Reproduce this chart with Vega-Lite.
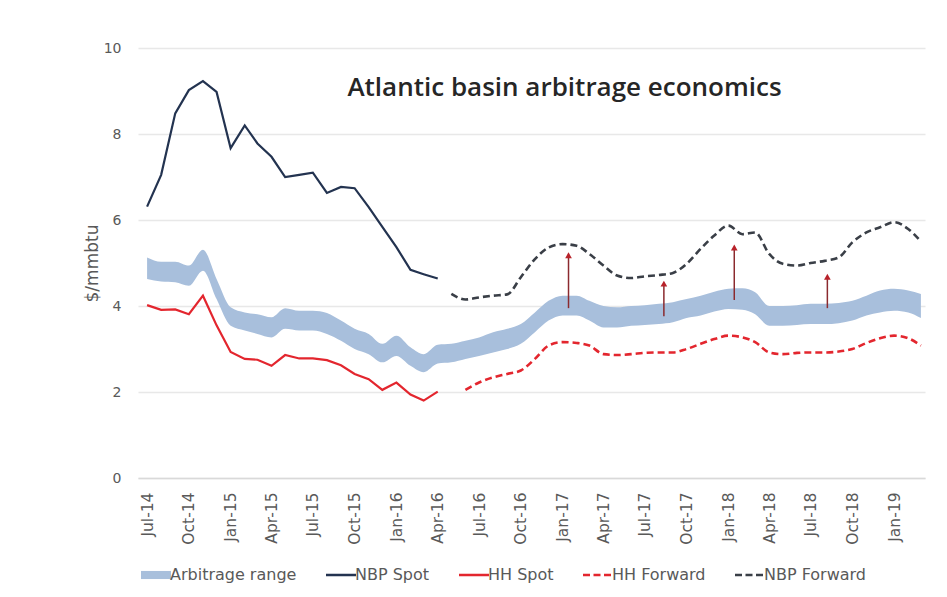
{
  "$schema": "https://vega.github.io/schema/vega-lite/v6.json",
  "width": 787,
  "height": 430,
  "autosize": {"type": "none"},
  "padding": {"left": 138, "top": 48, "right": 22, "bottom": 119},
  "background": "white",
  "config": {
    "view": {"stroke": null},
    "font": "DejaVu Sans",
    "axisY": {
      "grid": true, "gridColor": "#e8e8e8", "gridWidth": 1.5,
      "domain": false, "ticks": false,
      "labelFontSize": 14, "labelColor": "#595959", "labelPadding": 17,
      "titleFontSize": 17, "titleColor": "#595959", "titleFontWeight": "normal", "titlePadding": 2,
      "tickCount": 5
    },
    "axisX": {
      "grid": false, "domain": true, "domainColor": "#d9d9d9", "domainWidth": 1.5, "ticks": false,
      "labelAngle": -90, "labelFontSize": 15.5, "labelColor": "#595959", "labelPadding": 14
    }
  },
  "title": {
    "text": "Atlantic basin arbitrage economics",
    "frame": "group", "anchor": "middle", "dx": 33, "offset": -60,
    "font": "Open Sans", "fontSize": 26, "fontWeight": 600, "color": "#262626"
  },
  "datasets": {
    "band": [
      {"date": "2014-07-01", "lo": 4.63, "hi": 5.13},
      {"date": "2014-08-01", "lo": 4.57, "hi": 5.03},
      {"date": "2014-09-01", "lo": 4.55, "hi": 5.03},
      {"date": "2014-10-01", "lo": 4.47, "hi": 4.94},
      {"date": "2014-11-01", "lo": 4.82, "hi": 5.31},
      {"date": "2014-12-01", "lo": 4.16, "hi": 4.63},
      {"date": "2015-01-01", "lo": 3.54, "hi": 3.97},
      {"date": "2015-02-01", "lo": 3.43, "hi": 3.85},
      {"date": "2015-03-01", "lo": 3.35, "hi": 3.81},
      {"date": "2015-04-01", "lo": 3.27, "hi": 3.74},
      {"date": "2015-05-01", "lo": 3.47, "hi": 3.95},
      {"date": "2015-06-01", "lo": 3.43, "hi": 3.89},
      {"date": "2015-07-01", "lo": 3.43, "hi": 3.89},
      {"date": "2015-08-01", "lo": 3.35, "hi": 3.84},
      {"date": "2015-09-01", "lo": 3.19, "hi": 3.66},
      {"date": "2015-10-01", "lo": 3.0, "hi": 3.47},
      {"date": "2015-11-01", "lo": 2.88, "hi": 3.35},
      {"date": "2015-12-01", "lo": 2.69, "hi": 3.12},
      {"date": "2016-01-01", "lo": 2.84, "hi": 3.31},
      {"date": "2016-02-01", "lo": 2.61, "hi": 3.04},
      {"date": "2016-03-01", "lo": 2.46, "hi": 2.88},
      {"date": "2016-04-01", "lo": 2.66, "hi": 3.1},
      {"date": "2016-05-01", "lo": 2.69, "hi": 3.12},
      {"date": "2016-06-01", "lo": 2.77, "hi": 3.19},
      {"date": "2016-07-01", "lo": 2.84, "hi": 3.27},
      {"date": "2016-08-01", "lo": 2.92, "hi": 3.39},
      {"date": "2016-09-01", "lo": 3.0, "hi": 3.47},
      {"date": "2016-10-01", "lo": 3.12, "hi": 3.58},
      {"date": "2016-11-01", "lo": 3.39, "hi": 3.85},
      {"date": "2016-12-01", "lo": 3.66, "hi": 4.12},
      {"date": "2017-01-01", "lo": 3.78, "hi": 4.24},
      {"date": "2017-02-01", "lo": 3.78, "hi": 4.24},
      {"date": "2017-03-01", "lo": 3.66, "hi": 4.12},
      {"date": "2017-04-01", "lo": 3.5, "hi": 4.0},
      {"date": "2017-05-01", "lo": 3.5, "hi": 3.97},
      {"date": "2017-06-01", "lo": 3.54, "hi": 4.0},
      {"date": "2017-07-01", "lo": 3.56, "hi": 4.02},
      {"date": "2017-08-01", "lo": 3.58, "hi": 4.05},
      {"date": "2017-09-01", "lo": 3.62, "hi": 4.09},
      {"date": "2017-10-01", "lo": 3.72, "hi": 4.16},
      {"date": "2017-11-01", "lo": 3.78, "hi": 4.24},
      {"date": "2017-12-01", "lo": 3.87, "hi": 4.33},
      {"date": "2018-01-01", "lo": 3.93, "hi": 4.4},
      {"date": "2018-02-01", "lo": 3.91, "hi": 4.41},
      {"date": "2018-03-01", "lo": 3.81, "hi": 4.32},
      {"date": "2018-04-01", "lo": 3.54, "hi": 4.0},
      {"date": "2018-05-01", "lo": 3.54, "hi": 4.0},
      {"date": "2018-06-01", "lo": 3.56, "hi": 4.02},
      {"date": "2018-07-01", "lo": 3.58, "hi": 4.05},
      {"date": "2018-08-01", "lo": 3.58, "hi": 4.05},
      {"date": "2018-09-01", "lo": 3.6, "hi": 4.07},
      {"date": "2018-10-01", "lo": 3.66, "hi": 4.12},
      {"date": "2018-11-01", "lo": 3.78, "hi": 4.24},
      {"date": "2018-12-01", "lo": 3.85, "hi": 4.36},
      {"date": "2019-01-01", "lo": 3.89, "hi": 4.4},
      {"date": "2019-02-01", "lo": 3.85, "hi": 4.36},
      {"date": "2019-03-01", "lo": 3.72, "hi": 4.28}
    ],
    "lines": [
      {"date": "2014-07-01", "series": "NBP Spot", "value": 6.31},
      {"date": "2014-08-01", "series": "NBP Spot", "value": 7.05},
      {"date": "2014-09-01", "series": "NBP Spot", "value": 8.48},
      {"date": "2014-10-01", "series": "NBP Spot", "value": 9.02},
      {"date": "2014-11-01", "series": "NBP Spot", "value": 9.23},
      {"date": "2014-12-01", "series": "NBP Spot", "value": 8.98},
      {"date": "2015-01-01", "series": "NBP Spot", "value": 7.67},
      {"date": "2015-02-01", "series": "NBP Spot", "value": 8.2},
      {"date": "2015-03-01", "series": "NBP Spot", "value": 7.78},
      {"date": "2015-04-01", "series": "NBP Spot", "value": 7.47},
      {"date": "2015-05-01", "series": "NBP Spot", "value": 7.0},
      {"date": "2015-06-01", "series": "NBP Spot", "value": 7.05},
      {"date": "2015-07-01", "series": "NBP Spot", "value": 7.1},
      {"date": "2015-08-01", "series": "NBP Spot", "value": 6.63},
      {"date": "2015-09-01", "series": "NBP Spot", "value": 6.77},
      {"date": "2015-10-01", "series": "NBP Spot", "value": 6.74},
      {"date": "2015-11-01", "series": "NBP Spot", "value": 6.3},
      {"date": "2015-12-01", "series": "NBP Spot", "value": 5.84},
      {"date": "2016-01-01", "series": "NBP Spot", "value": 5.37},
      {"date": "2016-02-01", "series": "NBP Spot", "value": 4.84},
      {"date": "2016-03-01", "series": "NBP Spot", "value": 4.74},
      {"date": "2016-04-01", "series": "NBP Spot", "value": 4.64},
      {"date": "2014-07-01", "series": "HH Spot", "value": 4.02},
      {"date": "2014-08-01", "series": "HH Spot", "value": 3.91},
      {"date": "2014-09-01", "series": "HH Spot", "value": 3.92},
      {"date": "2014-10-01", "series": "HH Spot", "value": 3.81},
      {"date": "2014-11-01", "series": "HH Spot", "value": 4.24},
      {"date": "2014-12-01", "series": "HH Spot", "value": 3.55},
      {"date": "2015-01-01", "series": "HH Spot", "value": 2.93},
      {"date": "2015-02-01", "series": "HH Spot", "value": 2.77},
      {"date": "2015-03-01", "series": "HH Spot", "value": 2.75},
      {"date": "2015-04-01", "series": "HH Spot", "value": 2.61},
      {"date": "2015-05-01", "series": "HH Spot", "value": 2.86},
      {"date": "2015-06-01", "series": "HH Spot", "value": 2.78},
      {"date": "2015-07-01", "series": "HH Spot", "value": 2.78},
      {"date": "2015-08-01", "series": "HH Spot", "value": 2.74},
      {"date": "2015-09-01", "series": "HH Spot", "value": 2.62},
      {"date": "2015-10-01", "series": "HH Spot", "value": 2.42},
      {"date": "2015-11-01", "series": "HH Spot", "value": 2.3},
      {"date": "2015-12-01", "series": "HH Spot", "value": 2.05},
      {"date": "2016-01-01", "series": "HH Spot", "value": 2.22},
      {"date": "2016-02-01", "series": "HH Spot", "value": 1.94},
      {"date": "2016-03-01", "series": "HH Spot", "value": 1.8},
      {"date": "2016-04-01", "series": "HH Spot", "value": 2.01},
      {"date": "2016-06-01", "series": "HH Forward", "value": 2.05},
      {"date": "2016-07-01", "series": "HH Forward", "value": 2.22},
      {"date": "2016-08-01", "series": "HH Forward", "value": 2.34},
      {"date": "2016-09-01", "series": "HH Forward", "value": 2.42},
      {"date": "2016-10-01", "series": "HH Forward", "value": 2.5},
      {"date": "2016-11-01", "series": "HH Forward", "value": 2.77},
      {"date": "2016-12-01", "series": "HH Forward", "value": 3.08},
      {"date": "2017-01-01", "series": "HH Forward", "value": 3.16},
      {"date": "2017-02-01", "series": "HH Forward", "value": 3.14},
      {"date": "2017-03-01", "series": "HH Forward", "value": 3.08},
      {"date": "2017-04-01", "series": "HH Forward", "value": 2.88},
      {"date": "2017-05-01", "series": "HH Forward", "value": 2.86},
      {"date": "2017-06-01", "series": "HH Forward", "value": 2.88},
      {"date": "2017-07-01", "series": "HH Forward", "value": 2.91},
      {"date": "2017-08-01", "series": "HH Forward", "value": 2.92},
      {"date": "2017-09-01", "series": "HH Forward", "value": 2.92},
      {"date": "2017-10-01", "series": "HH Forward", "value": 3.0},
      {"date": "2017-11-01", "series": "HH Forward", "value": 3.12},
      {"date": "2017-12-01", "series": "HH Forward", "value": 3.23},
      {"date": "2018-01-01", "series": "HH Forward", "value": 3.31},
      {"date": "2018-02-01", "series": "HH Forward", "value": 3.27},
      {"date": "2018-03-01", "series": "HH Forward", "value": 3.16},
      {"date": "2018-04-01", "series": "HH Forward", "value": 2.92},
      {"date": "2018-05-01", "series": "HH Forward", "value": 2.88},
      {"date": "2018-06-01", "series": "HH Forward", "value": 2.91},
      {"date": "2018-07-01", "series": "HH Forward", "value": 2.92},
      {"date": "2018-08-01", "series": "HH Forward", "value": 2.92},
      {"date": "2018-09-01", "series": "HH Forward", "value": 2.94},
      {"date": "2018-10-01", "series": "HH Forward", "value": 3.0},
      {"date": "2018-11-01", "series": "HH Forward", "value": 3.14},
      {"date": "2018-12-01", "series": "HH Forward", "value": 3.25},
      {"date": "2019-01-01", "series": "HH Forward", "value": 3.31},
      {"date": "2019-02-01", "series": "HH Forward", "value": 3.25},
      {"date": "2019-03-01", "series": "HH Forward", "value": 3.08},
      {"date": "2016-05-01", "series": "NBP Forward", "value": 4.28},
      {"date": "2016-06-01", "series": "NBP Forward", "value": 4.15},
      {"date": "2016-07-01", "series": "NBP Forward", "value": 4.2},
      {"date": "2016-08-01", "series": "NBP Forward", "value": 4.24},
      {"date": "2016-09-01", "series": "NBP Forward", "value": 4.27},
      {"date": "2016-10-01", "series": "NBP Forward", "value": 4.67},
      {"date": "2016-11-01", "series": "NBP Forward", "value": 5.09},
      {"date": "2016-12-01", "series": "NBP Forward", "value": 5.36},
      {"date": "2017-01-01", "series": "NBP Forward", "value": 5.44},
      {"date": "2017-02-01", "series": "NBP Forward", "value": 5.4},
      {"date": "2017-03-01", "series": "NBP Forward", "value": 5.21},
      {"date": "2017-04-01", "series": "NBP Forward", "value": 4.94},
      {"date": "2017-05-01", "series": "NBP Forward", "value": 4.71},
      {"date": "2017-06-01", "series": "NBP Forward", "value": 4.65},
      {"date": "2017-07-01", "series": "NBP Forward", "value": 4.69},
      {"date": "2017-08-01", "series": "NBP Forward", "value": 4.72},
      {"date": "2017-09-01", "series": "NBP Forward", "value": 4.77},
      {"date": "2017-10-01", "series": "NBP Forward", "value": 4.98},
      {"date": "2017-11-01", "series": "NBP Forward", "value": 5.33},
      {"date": "2017-12-01", "series": "NBP Forward", "value": 5.64},
      {"date": "2018-01-01", "series": "NBP Forward", "value": 5.87},
      {"date": "2018-02-01", "series": "NBP Forward", "value": 5.67},
      {"date": "2018-03-01", "series": "NBP Forward", "value": 5.71},
      {"date": "2018-04-01", "series": "NBP Forward", "value": 5.21},
      {"date": "2018-05-01", "series": "NBP Forward", "value": 4.98},
      {"date": "2018-06-01", "series": "NBP Forward", "value": 4.94},
      {"date": "2018-07-01", "series": "NBP Forward", "value": 5.0},
      {"date": "2018-08-01", "series": "NBP Forward", "value": 5.05},
      {"date": "2018-09-01", "series": "NBP Forward", "value": 5.13},
      {"date": "2018-10-01", "series": "NBP Forward", "value": 5.48},
      {"date": "2018-11-01", "series": "NBP Forward", "value": 5.71},
      {"date": "2018-12-01", "series": "NBP Forward", "value": 5.83},
      {"date": "2019-01-01", "series": "NBP Forward", "value": 5.95},
      {"date": "2019-02-01", "series": "NBP Forward", "value": 5.79},
      {"date": "2019-03-01", "series": "NBP Forward", "value": 5.5}
    ],
    "arrows": [
      {"date": "2017-01-14", "lo": 3.95, "hi": 5.18},
      {"date": "2017-08-12", "lo": 3.76, "hi": 4.52},
      {"date": "2018-01-14", "lo": 4.14, "hi": 5.36},
      {"date": "2018-08-07", "lo": 3.95, "hi": 4.68}
    ]
  },
  "encoding": {
    "x": {
      "field": "date", "type": "temporal", "title": null,
      "scale": {"type": "utc", "domain": [{"year": 2014, "month": 6, "date": 11, "utc": true}, {"year": 2019, "month": 3, "date": 10, "utc": true}]},
      "axis": {"format": "%b-%y", "tickCount": {"interval": "month", "step": 3}}
    }
  },
  "layer": [
    {
      "data": {"name": "band"},
      "mark": {"type": "area", "interpolate": "monotone", "fill": "#a8bfdc", "opacity": 1},
      "encoding": {
        "y": {"field": "lo", "type": "quantitative", "title": "$/mmbtu", "scale": {"domain": [0, 10]}},
        "y2": {"field": "hi"}
      }
    },
    {
      "data": {"name": "lines"},
      "transform": [{"filter": "indexof(datum.series, 'Spot') >= 0"}],
      "mark": {"type": "line", "strokeWidth": 2.2, "interpolate": "linear"},
      "encoding": {
        "y": {"field": "value", "type": "quantitative", "title": "$/mmbtu"},
        "color": {
          "field": "series", "type": "nominal",
          "scale": {"domain": ["Arbitrage range", "NBP Spot", "HH Spot", "HH Forward", "NBP Forward"], "range": ["#a8bfdc", "#233350", "#e3262e", "#e3262e", "#3a3f47"]},
          "legend": {
            "title": null, "orient": "none", "legendX": 10, "legendY": 519, "direction": "horizontal",
            "symbolType": "stroke", "symbolSize": 900, "symbolStrokeWidth": 2.5,
            "labelFontSize": 16, "labelColor": "#595959", "labelOffset": 6, "columnPadding": 24,
            "encode": {"symbols": {"update": {
              "shape": {"signal": "datum.value === 'Arbitrage range' ? 'M-1,-0.27H1V0.27H-1Z' : 'stroke'"},
              "fill": {"signal": "datum.value === 'Arbitrage range' ? '#a8bfdc' : 'transparent'"},
              "strokeWidth": {"signal": "datum.value === 'Arbitrage range' ? 0 : 2.5"},
              "strokeDash": {"signal": "indexof(datum.value, 'Forward') >= 0 ? [7, 3.5] : [1, 0]"},
              "opacity": {"value": 1}
            }}}
          }
        }
      }
    },
    {
      "data": {"name": "lines"},
      "transform": [{"filter": "indexof(datum.series, 'Forward') >= 0"}],
      "mark": {"type": "line", "strokeWidth": 2.6, "interpolate": "monotone", "strokeDash": [7, 4]},
      "encoding": {
        "y": {"field": "value", "type": "quantitative", "title": "$/mmbtu"},
        "color": {
          "field": "series", "type": "nominal",
          "scale": {"domain": ["Arbitrage range", "NBP Spot", "HH Spot", "HH Forward", "NBP Forward"], "range": ["#a8bfdc", "#233350", "#e3262e", "#e3262e", "#3a3f47"]},
          "legend": {
            "title": null, "orient": "none", "legendX": 10, "legendY": 519, "direction": "horizontal",
            "symbolType": "stroke", "symbolSize": 900, "symbolStrokeWidth": 2.5,
            "labelFontSize": 16, "labelColor": "#595959", "labelOffset": 6, "columnPadding": 24,
            "encode": {"symbols": {"update": {
              "shape": {"signal": "datum.value === 'Arbitrage range' ? 'M-1,-0.27H1V0.27H-1Z' : 'stroke'"},
              "fill": {"signal": "datum.value === 'Arbitrage range' ? '#a8bfdc' : 'transparent'"},
              "strokeWidth": {"signal": "datum.value === 'Arbitrage range' ? 0 : 2.5"},
              "strokeDash": {"signal": "indexof(datum.value, 'Forward') >= 0 ? [7, 3.5] : [1, 0]"},
              "opacity": {"value": 1}
            }}}
          }
        }
      }
    },
    {
      "data": {"name": "arrows"},
      "mark": {"type": "rule", "color": "#8b2a2e", "strokeWidth": 1.5},
      "encoding": {
        "y": {"field": "lo", "type": "quantitative", "title": "$/mmbtu"},
        "y2": {"field": "hi"}
      }
    },
    {
      "data": {"name": "arrows"},
      "mark": {"type": "point", "shape": "triangle-up", "filled": true, "color": "#b8222a", "size": 45, "opacity": 1},
      "encoding": {
        "y": {"field": "hi", "type": "quantitative", "title": "$/mmbtu"}
      }
    }
  ]
}
